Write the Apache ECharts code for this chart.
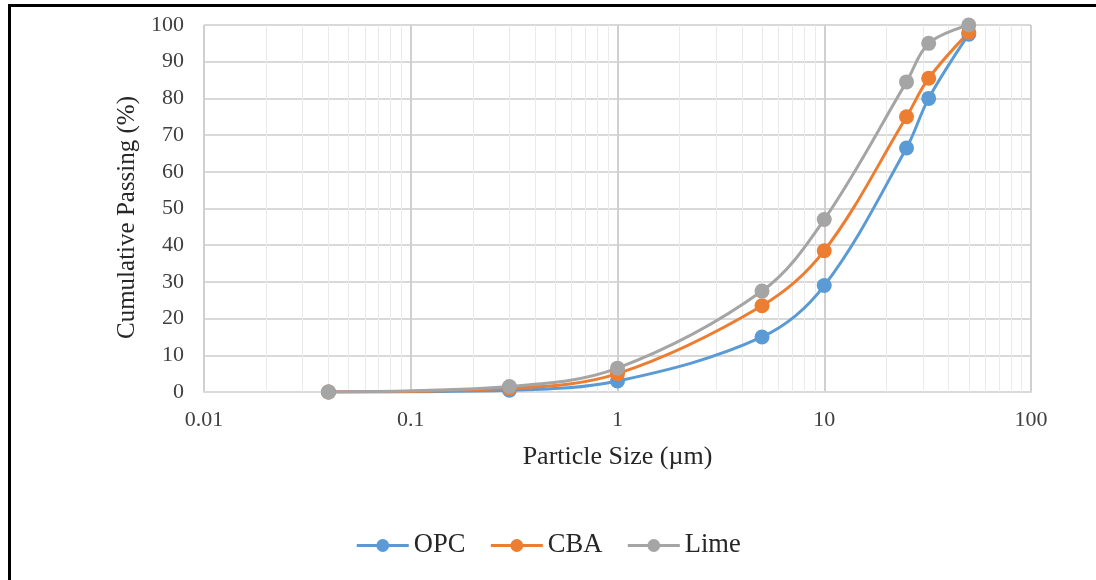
<!DOCTYPE html>
<html>
<head>
<meta charset="utf-8">
<title>Particle size distribution</title>
<script src="https://cdn.jsdelivr.net/npm/echarts@6/dist/echarts.min.js"></script>
<style>
  html, body { margin: 0; padding: 0; background: #fff; overflow: hidden; }
  #chart { width: 1096px; height: 580px; }
  #frame {
    position: absolute; left: 8px; top: 4px; width: 1200px; height: 700px;
    border-top: 3px solid #000; border-left: 3px solid #000; pointer-events: none;
  }
</style>
</head>
<body>
<div id="chart"></div>
<div id="frame"></div>
<script>
// particle sizes (µm)
var sizes = [0.04, 0.3, 1, 5, 10, 25, 32, 50];
// cumulative passing (%)
var opc  = [0, 0.5, 3, 15, 29, 66.5, 80, 97.5];
var cba  = [0, 1, 5, 23.5, 38.5, 75, 85.5, 98];
var lime = [0, 1.5, 6.5, 27.5, 47, 84.5, 95, 100];

var seriesNames = ['OPC', 'CBA', 'Lime'];
var seriesColors = ['#5B9BD5', '#ED7D31', '#A5A5A5'];

// minor log grid lines 2..9 per decade
var minorGrid = [0.02, 0.03, 0.04, 0.05, 0.06, 0.07, 0.08, 0.09,
                 0.2, 0.3, 0.4, 0.5, 0.6, 0.7, 0.8, 0.9,
                 2, 3, 4, 5, 6, 7, 8, 9,
                 20, 30, 40, 50, 60, 70, 80, 90];

var font = "'Liberation Serif', 'Times New Roman', serif";

function pairs(ys) {
  var out = [];
  for (var i = 0; i < sizes.length; i++) out.push([sizes[i], ys[i]]);
  return out;
}

var allData = [opc, cba, lime];
var series = [{
  name: 'minor',
  type: 'line',
  data: [],
  z: 1,
  silent: true,
  markLine: {
    silent: true,
    symbol: 'none',
    label: { show: false },
    lineStyle: { color: '#ebebeb', width: 1, type: 'solid' },
    emphasis: { disabled: true },
    animation: false,
    data: minorGrid.map(function(v) { return { xAxis: v }; })
  }
}];
for (var i = 0; i < seriesNames.length; i++) {
  series.push({
    name: seriesNames[i],
    type: 'line',
    smooth: 0.35,
    z: 5,
    symbol: 'circle',
    symbolSize: 15,
    data: pairs(allData[i]),
    itemStyle: { color: seriesColors[i] },
    lineStyle: { color: seriesColors[i], width: 3 }
  });
}

var chart = echarts.init(document.getElementById('chart'));
chart.setOption({
  animation: false,
  textStyle: { fontFamily: font },
  grid: { left: 204, right: 65, top: 25, bottom: 188, containLabel: false },
  legend: {
    data: seriesNames,
    bottom: 16,
    left: 'center',
    itemWidth: 52,
    itemHeight: 16,
    itemGap: 24,
    lineStyle: { width: 3 },
    textStyle: { fontFamily: font, fontSize: 26.5, color: '#262626' }
  },
  xAxis: {
    type: 'log',
    logBase: 10,
    min: 0.01,
    max: 100,
    name: 'Particle Size (µm)',
    nameLocation: 'middle',
    nameGap: 52,
    nameTextStyle: { fontFamily: font, fontSize: 26, color: '#262626' },
    axisLine: { show: true, lineStyle: { color: '#d9d9d9', width: 2 } },
    axisTick: { show: false },
    axisLabel: {
      margin: 17,
      fontFamily: font,
      fontSize: 22,
      color: '#404040',
      formatter: function(v) { return String(+v.toPrecision(3)); }
    },
    splitLine: { show: true, lineStyle: { color: '#d0d0d0', width: 2 } }
  },
  yAxis: {
    type: 'value',
    min: 0,
    max: 100,
    interval: 10,
    name: 'Cumulative Passing (%)',
    nameLocation: 'middle',
    nameGap: 64,
    nameTextStyle: { fontFamily: font, fontSize: 25, color: '#262626', padding: [0, 18, 0, 0] },
    axisLine: { show: false },
    axisTick: { show: false },
    axisLabel: { margin: 20, fontFamily: font, fontSize: 22, color: '#404040' },
    splitLine: { show: true, lineStyle: { color: '#d9d9d9', width: 2 } }
  },
  series: series
});
</script>
</body>
</html>
